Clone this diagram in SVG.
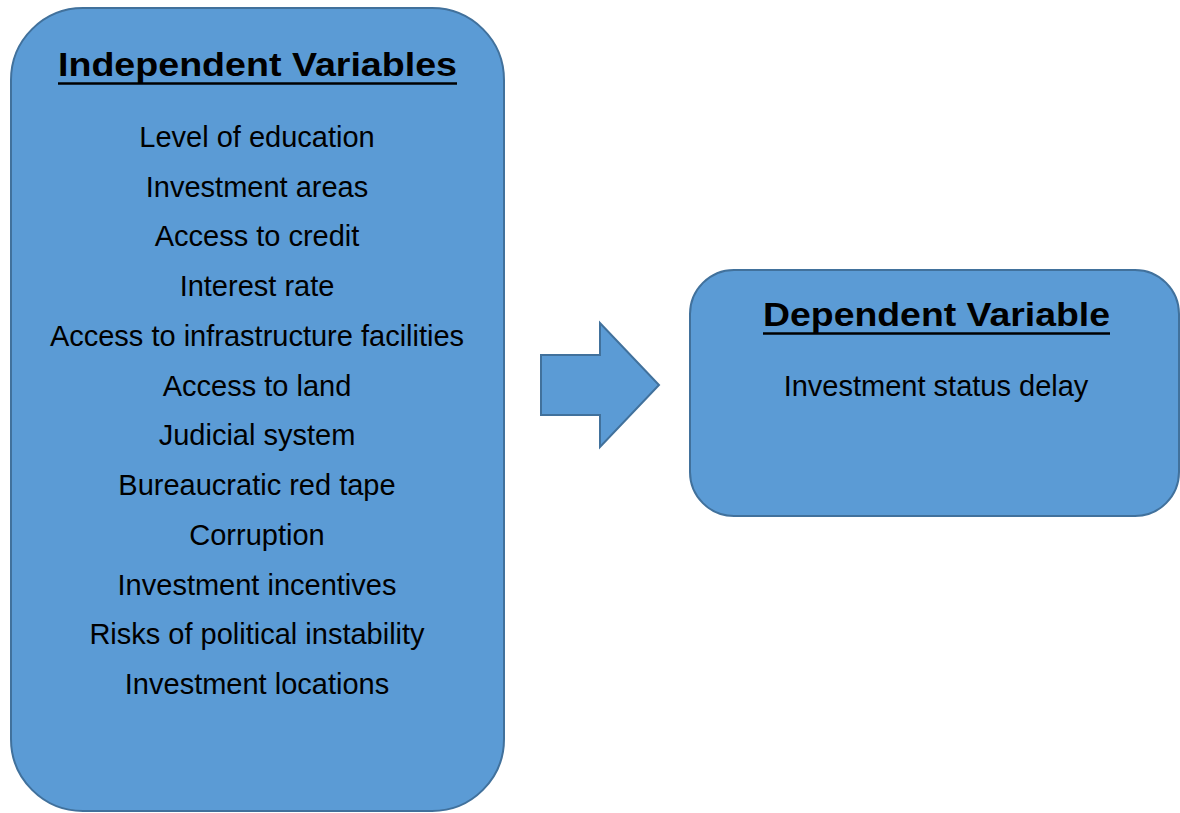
<svg xmlns="http://www.w3.org/2000/svg" width="1180" height="813" viewBox="0 0 1180 813">
<style>
.box{fill:#5B9BD5;stroke:#41719C;stroke-width:2}
.t{font-family:"Liberation Sans",Arial,sans-serif;font-size:29px;fill:#000;text-anchor:middle}
.h{font-family:"Liberation Sans",Arial,sans-serif;font-size:34px;font-weight:bold;fill:#000;text-anchor:middle}
.ul{stroke:#000;stroke-width:2.7}
</style>
<rect width="1180" height="813" fill="#fff"/>
<g id="independent">
<rect class="box" x="11" y="8" width="493" height="803" rx="72" ry="72"/>
<text class="h" x="257.5" y="76" textLength="399" lengthAdjust="spacingAndGlyphs">Independent Variables</text>
<line class="ul" x1="58" y1="83.5" x2="457" y2="83.5"/>
<text class="t" x="257" y="147">Level of education</text>
<text class="t" x="257" y="196.5">Investment areas</text>
<text class="t" x="257" y="246">Access to credit</text>
<text class="t" x="257" y="296">Interest rate</text>
<text class="t" x="257" y="346">Access to infrastructure facilities</text>
<text class="t" x="257" y="395.5">Access to land</text>
<text class="t" x="257" y="445">Judicial system</text>
<text class="t" x="257" y="495">Bureaucratic red tape</text>
<text class="t" x="257" y="545">Corruption</text>
<text class="t" x="257" y="594.5">Investment incentives</text>
<text class="t" x="257" y="644">Risks of political instability</text>
<text class="t" x="257" y="694">Investment locations</text>
</g>
<g id="connectors">
<polygon class="box" points="541,355 600,355 600,323 659,385 600,447 600,415 541,415"/>
</g>
<g id="dependent">
<rect class="box" x="690" y="270" width="489" height="246" rx="44" ry="44"/>
<text class="h" x="936.5" y="326" textLength="347" lengthAdjust="spacingAndGlyphs">Dependent Variable</text>
<line class="ul" x1="763" y1="333.5" x2="1110" y2="333.5"/>
<text class="t" x="936" y="396">Investment status delay</text>
</g>
</svg>
